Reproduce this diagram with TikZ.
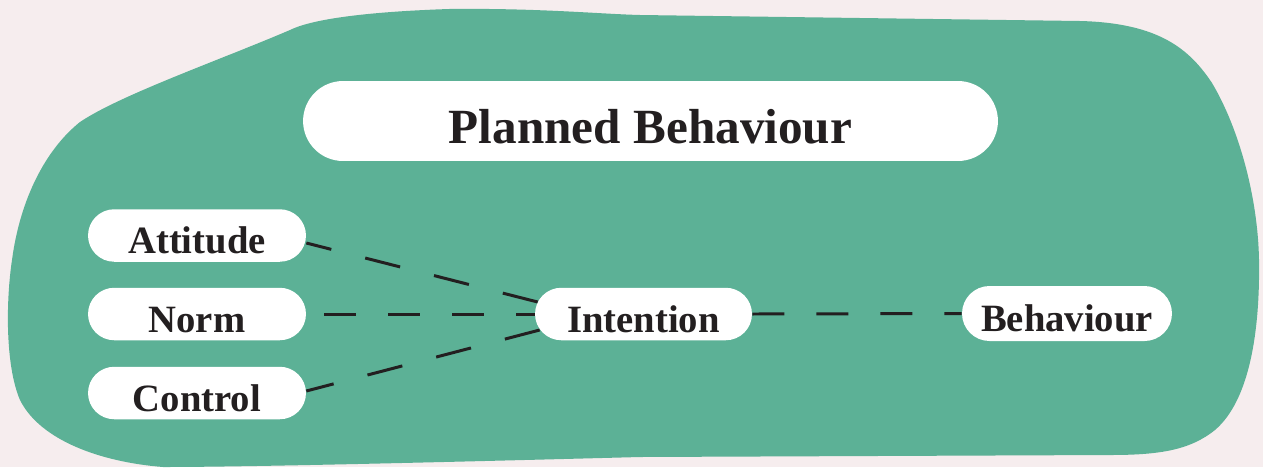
\documentclass[tikz,border=0pt]{standalone}
\usepackage{fontspec}
\setmainfont{Liberation Serif}
\usetikzlibrary{shapes.misc}
\definecolor{bgc}{HTML}{F6EDEE}
\definecolor{blobc}{HTML}{5CB196}
\definecolor{ink}{HTML}{231F20}
\begin{document}
\begin{tikzpicture}[x=0.02cm,y=-0.02cm,
  pill/.style={rounded rectangle, fill=white, draw=none, inner sep=0pt, text=ink,
    font=\bfseries\fontsize{22}{26}\selectfont, minimum height=1.05cm,
    text height=0.72cm, text depth=0pt},
  link/.style={draw=ink, line width=1.7pt, dash pattern=on 0.64cm off 0.64cm},
  slant/.style={draw=ink, line width=1.7pt, dash pattern=on 0.72cm off 0.70cm}]
\useasboundingbox (0,0) rectangle (1263,467);
\fill[bgc] (0,0) rectangle (1263,467);
\clip (0,0) rectangle (1263,467);
\fill[blobc] (290,30) .. controls (310,20) and (360,12) .. (449,9)
  .. controls (540,8) and (600,14) .. (640,15)
  -- (1080,21)
  .. controls (1160,23) and (1190,50) .. (1212,83)
  .. controls (1240,130) and (1258,200) .. (1259,260)
  .. controls (1260,330) and (1250,400) .. (1215,430)
  .. controls (1190,450) and (1160,455) .. (1110,455)
  -- (640,457)
  .. controls (450,462) and (250,467) .. (163,467)
  .. controls (100,462) and (40,440) .. (20,400)
  .. controls (5,365) and (6,300) .. (12,260)
  .. controls (20,200) and (45,150) .. (80,122)
  .. controls (120,95) and (220,60) .. (290,30) -- cycle;

\node[pill, minimum width=13.9cm, minimum height=1.6cm, text height=0.88cm,
  font=\bfseries\fontsize{28}{32}\selectfont] (title) at (650.5,121) {Planned Behaviour};
\node[pill, minimum width=4.36cm] (attitude) at (197,235.5) {Attitude};
\node[pill, minimum width=4.36cm] (norm) at (197,314) {Norm};
\node[pill, minimum width=4.36cm] (control) at (197,393) {Control};
\node[pill, minimum width=4.34cm] (intention) at (643.5,314) {Intention};
\node[pill, minimum width=4.2cm, minimum height=1.1cm] (behaviour) at (1067,313.5) {Behaviour};

\draw[slant] ([xshift=0.06cm,yshift=0.24cm]intention.west) -- ([yshift=-0.15cm]attitude.east);
\draw[link, dash phase=0.92cm] (norm.east) -- (intention.west);
\draw[slant] ([xshift=0.1cm,yshift=-0.32cm]intention.west) -- ([yshift=0.04cm]control.east);
\draw[link] (intention.east) -- (behaviour.west);
\end{tikzpicture}
\end{document}
